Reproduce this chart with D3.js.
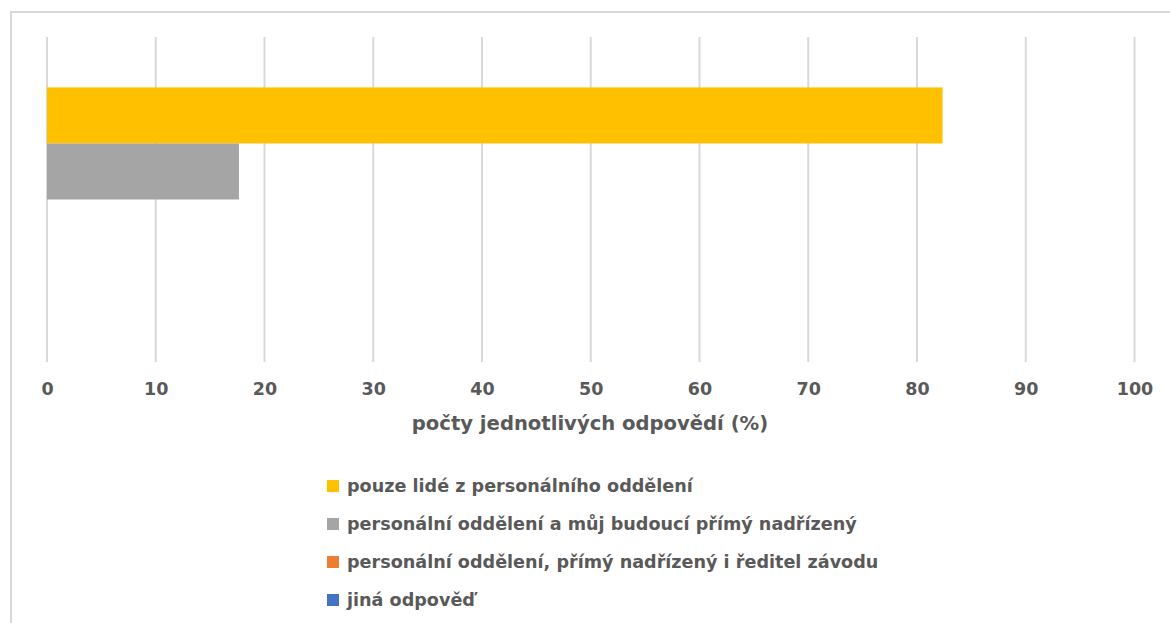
<!DOCTYPE html>
<html>
<head>
<meta charset="utf-8">
<script src="https://cdn.jsdelivr.net/npm/d3@7"></script>
<style>
  html, body { margin: 0; padding: 0; background: #fff; }
  svg { display: block; }
  text { font-family: "DejaVu Sans", sans-serif; font-weight: 700; fill: #595959; }
</style>
</head>
<body>
<svg id="chart" width="1170" height="623"></svg>
<script>
// Answer options (one bar each) and their share of responses in percent
const series = [
  "pouze lidé z personálního oddělení",
  "personální oddělení a můj budoucí přímý nadřízený",
  "personální oddělení, přímý nadřízený i ředitel závodu",
  "jiná odpověď"
];
const values = [82.35, 17.65, 0, 0];
const colors = ["#FFC000", "#A5A5A5", "#ED7D31", "#4472C4"];
const xTicks = [0, 10, 20, 30, 40, 50, 60, 70, 80, 90, 100];
const xTitle = "počty jednotlivých odpovědí (%)";

const svg = d3.select("#chart");

// outer chart frame
svg.append("rect")
  .attr("x", 11).attr("y", 12)
  .attr("width", 1170).attr("height", 640)
  .attr("fill", "none").attr("stroke", "#d9d9d9").attr("stroke-width", 2);

const plot = { left: 47, right: 1134.5, top: 37, bottom: 362 };

const x = d3.scaleLinear().domain([0, 100]).range([plot.left, plot.right]);
const y = d3.scaleBand().domain(series).range([plot.top, plot.bottom])
  .paddingInner(0).paddingOuter(0.9);

// vertical gridlines
svg.append("g").selectAll("line").data(xTicks).join("line")
  .attr("x1", d => x(d)).attr("x2", d => x(d))
  .attr("y1", plot.top).attr("y2", plot.bottom)
  .attr("stroke", "#d9d9d9").attr("stroke-width", 2);

// bars
svg.append("g").selectAll("rect").data(series).join("rect")
  .attr("x", x(0))
  .attr("y", d => y(d))
  .attr("width", (d, i) => x(values[i]) - x(0))
  .attr("height", y.bandwidth())
  .attr("fill", (d, i) => colors[i]);

// x axis labels
const axis = d3.axisBottom(x).tickValues(xTicks).tickSize(0).tickPadding(0);
const gx = svg.append("g").attr("transform", `translate(0,${plot.bottom})`).call(axis);
gx.select(".domain").remove();
gx.selectAll("text")
  .attr("y", 27).attr("dy", "0.35em")
  .style("font-size", "17.5px")
  .style("font-family", "\"DejaVu Sans\", sans-serif")
  .style("font-weight", 700)
  .attr("fill", "#595959");

// axis title
svg.append("text")
  .attr("x", 590).attr("y", 423).attr("dy", "0.35em")
  .attr("text-anchor", "middle")
  .style("font-size", "19.6px")
  .text(xTitle);

// legend
const legend = svg.append("g").selectAll("g").data(series).join("g")
  .attr("transform", (d, i) => `translate(327,${486 + i * 38})`);
legend.append("rect")
  .attr("x", 0).attr("y", -6).attr("width", 12).attr("height", 12)
  .attr("fill", (d, i) => colors[i]);
legend.append("text")
  .attr("x", 20).attr("y", 0).attr("dy", "0.35em")
  .style("font-size", "17.6px")
  .text(d => d);
</script>
</body>
</html>
